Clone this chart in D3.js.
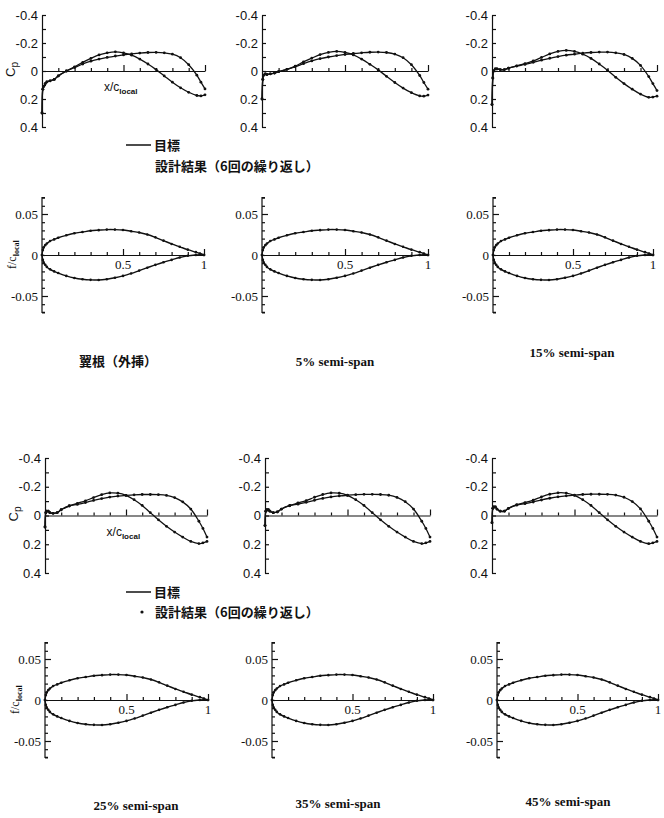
<!DOCTYPE html>
<html><head><meta charset="utf-8">
<script src="https://cdn.jsdelivr.net/npm/d3@7"></script>
<style>body{margin:0;background:#fff}svg{display:block}</style>
</head><body>
<script>
// ---------- data ----------
const xs = [0,0.005,0.01,0.02,0.03,0.05,0.075,0.1,0.15,0.2,0.25,0.3,0.35,0.4,0.45,0.5,0.55,0.6,0.65,0.7,0.75,0.8,0.85,0.9,0.95,0.975,1];
const cpRootA = [0.30,0.13,0.11,0.09,0.078,0.07,0.06,0.035,0.0,-0.03,-0.062,-0.09,-0.115,-0.13,-0.137,-0.13,-0.113,-0.085,-0.05,-0.01,0.035,0.08,0.12,0.152,0.175,0.178,0.17];
const cpRootB = [0.30,0.13,0.11,0.09,0.078,0.07,0.06,0.035,0.0,-0.025,-0.05,-0.07,-0.085,-0.097,-0.107,-0.115,-0.122,-0.128,-0.132,-0.133,-0.13,-0.12,-0.095,-0.045,0.03,0.08,0.128];
const cp5A = [0.20,0.06,0.03,0.02,0.025,0.02,0.015,0.005,-0.012,-0.035,-0.065,-0.092,-0.117,-0.133,-0.14,-0.133,-0.115,-0.085,-0.048,-0.008,0.038,0.082,0.122,0.155,0.178,0.18,0.172];
const cp5B = [0.20,0.06,0.03,0.02,0.025,0.02,0.015,0.005,-0.012,-0.03,-0.052,-0.072,-0.088,-0.1,-0.11,-0.118,-0.125,-0.13,-0.134,-0.135,-0.132,-0.121,-0.095,-0.045,0.032,0.082,0.13];
const cp15A = [0.24,0.05,0.0,-0.015,-0.015,-0.01,-0.01,-0.02,-0.037,-0.052,-0.072,-0.097,-0.122,-0.14,-0.147,-0.14,-0.12,-0.09,-0.05,-0.005,0.045,0.09,0.13,0.165,0.188,0.186,0.18];
const cp15B = [0.24,0.05,0.0,-0.015,-0.015,-0.01,-0.01,-0.02,-0.035,-0.047,-0.062,-0.077,-0.091,-0.103,-0.113,-0.12,-0.127,-0.132,-0.135,-0.135,-0.13,-0.118,-0.09,-0.04,0.04,0.09,0.14];
const cp25A = [0.08,-0.02,-0.03,-0.03,-0.02,-0.015,-0.02,-0.04,-0.068,-0.085,-0.102,-0.125,-0.145,-0.157,-0.155,-0.14,-0.11,-0.07,-0.02,0.03,0.075,0.115,0.15,0.18,0.195,0.19,0.18];
const cp25B = [0.08,-0.02,-0.03,-0.03,-0.02,-0.015,-0.02,-0.04,-0.066,-0.077,-0.09,-0.105,-0.118,-0.128,-0.135,-0.14,-0.144,-0.146,-0.146,-0.145,-0.14,-0.125,-0.095,-0.045,0.04,0.09,0.15];
const cp35A = [0.07,-0.03,-0.04,-0.04,-0.03,-0.02,-0.025,-0.045,-0.07,-0.087,-0.104,-0.127,-0.146,-0.157,-0.155,-0.14,-0.11,-0.07,-0.02,0.03,0.075,0.115,0.15,0.18,0.195,0.19,0.18];
const cp35B = [0.07,-0.03,-0.04,-0.04,-0.03,-0.02,-0.025,-0.045,-0.068,-0.079,-0.092,-0.106,-0.119,-0.129,-0.136,-0.141,-0.145,-0.147,-0.147,-0.146,-0.141,-0.126,-0.096,-0.045,0.04,0.09,0.15];
const cp45A = [0.05,-0.05,-0.06,-0.06,-0.045,-0.03,-0.03,-0.05,-0.075,-0.09,-0.107,-0.13,-0.148,-0.158,-0.156,-0.14,-0.11,-0.07,-0.02,0.03,0.075,0.115,0.15,0.18,0.196,0.19,0.18];
const cp45B = [0.05,-0.05,-0.06,-0.06,-0.045,-0.03,-0.03,-0.05,-0.072,-0.082,-0.094,-0.108,-0.12,-0.13,-0.137,-0.142,-0.146,-0.148,-0.148,-0.147,-0.142,-0.127,-0.097,-0.046,0.04,0.09,0.15];
const thickUpper = [0,0.006,0.009,0.012,0.014,0.017,0.019,0.021,0.024,0.0265,0.028,0.0295,0.0303,0.031,0.031,0.0305,0.029,0.0275,0.025,0.0215,0.0175,0.0135,0.010,0.0065,0.0035,0.0018,0];
const thickLower = [0,-0.006,-0.009,-0.012,-0.0145,-0.0175,-0.02,-0.022,-0.0255,-0.028,-0.0295,-0.0303,-0.0305,-0.0295,-0.0278,-0.0255,-0.0225,-0.019,-0.0155,-0.012,-0.0088,-0.006,-0.003,-0.001,0,0.0003,0];
const sectionNames = ["翼根（外挿）","5% semi-span","15% semi-span","25% semi-span","35% semi-span","45% semi-span"];
const cpSeries = [[cpRootA,cpRootB],[cp5A,cp5B],[cp15A,cp15B],[cp25A,cp25B],[cp35A,cp35B],[cp45A,cp45B]];
const cpTickValues = [-0.4,-0.2,0,0.2,0.4];
const cpTickLabels = ["-0.4","-0.2","0","0.2","0.4"];
const thickTickValues = [0.05,0,-0.05];
const thickTickLabels = ["0.05","0","-0.05"];
const xTickValues = [0.5,1];
const xTickLabels = ["0.5","1"];
const legendTarget = "目標";
const legendDesign = "設計結果（6回の繰り返し）";

// ---------- layout ----------
const W = 664, H = 818;
const svg = d3.select("body").append("svg").attr("width",W).attr("height",H);
const ink = "#111";
const cpLayout = [
  {x0:42,x1:205,yT:15,yB:127},{x0:262,x1:428,yT:15,yB:127},{x0:492,x1:657,yT:15,yB:127},
  {x0:45,x1:207,yT:458,yB:573},{x0:265,x1:430,yT:458,yB:573},{x0:492,x1:657,yT:458,yB:573}
];
const thLayout = [
  {x0:42,x1:204,yZero:255,yF:214},{x0:262,x1:428,yZero:255,yF:214},{x0:493,x1:653,yZero:255,yF:214},
  {x0:45,x1:208,yZero:700,yF:659},{x0:272,x1:433,yZero:700,yF:659},{x0:497,x1:658,yZero:700,yF:659}
];
const labelPos = [[118,366],[335,366],[572,357],[136,810],[338,808],[568,806]];

const line = (x,y) => d3.line().x((d,i)=>x(xs[i])).y(d=>y(d)).curve(d3.curveCatmullRom.alpha(0.5));

function drawCp(k){
  const L = cpLayout[k];
  const g = svg.append("g");
  const x = d3.scaleLinear().domain([0,1]).range([L.x0,L.x1]);
  const y = d3.scaleLinear().domain([-0.4,0.4]).range([L.yT,L.yB]);
  // y axis
  g.append("g").attr("transform",`translate(${L.x0},0)`)
    .call(d3.axisRight(y).tickValues(d3.range(-0.4,0.401,0.1)).tickSize(4).tickSizeOuter(0).tickFormat(""))
    .call(a=>a.selectAll("path,line").attr("stroke",ink).attr("stroke-width",1.2));
  // x axis at 0
  g.append("g").attr("transform",`translate(0,${y(0)})`)
    .call(d3.axisTop(x).tickValues(d3.range(0.1,1.001,0.1)).tickSize(3).tickSizeOuter(0).tickFormat(""))
    .call(a=>{a.selectAll("path,line").attr("stroke",ink).attr("stroke-width",1.2);
      a.selectAll(".tick line").filter(d=>Math.abs(d-0.5)<1e-6||Math.abs(d-1)<1e-6).attr("y2",-6);});
  g.selectAll(".yl").data(cpTickValues).join("text")
    .attr("x",L.x0-4).attr("y",d=>y(d)+4.5).attr("text-anchor","end")
    .attr("font-family","Liberation Sans, Arial, sans-serif").attr("font-size",13).attr("fill",ink)
    .text((d,i)=>cpTickLabels[i]);
  cpSeries[k].forEach(s=>{
    g.append("path").attr("d",line(x,y)(s)).attr("fill","none").attr("stroke",ink).attr("stroke-width",1.3);
    g.selectAll(null).data(s).join("circle").attr("cx",(d,i)=>x(xs[i])).attr("cy",d=>y(d)).attr("r",1.4).attr("fill",ink);
  });
  if(k===0||k===3){
    // Cp label
    const cpT = g.append("text").attr("transform",`translate(${L.x0-27},${y(0)+6}) rotate(-90)`)
      .attr("font-family","Liberation Sans, Arial, sans-serif").attr("font-size",13).attr("fill",ink);
    cpT.append("tspan").text("C");
    cpT.append("tspan").attr("font-size",10).attr("dy",3).text("p");
    const xl = g.append("text").attr("x",x(0.38)).attr("y",y(0)+20)
      .attr("font-family","Liberation Sans, Arial, sans-serif").attr("font-size",12).attr("fill",ink);
    xl.append("tspan").text("x/c");
    xl.append("tspan").attr("font-size",8).attr("font-weight","bold").attr("dy",3).text("local");
  }
}

function drawThick(k){
  const L = thLayout[k];
  const g = svg.append("g");
  const x = d3.scaleLinear().domain([0,1]).range([L.x0,L.x1]);
  const y = d3.scaleLinear().domain([0,0.05]).range([L.yZero,L.yF]);
  g.append("g").attr("transform",`translate(${L.x0},0)`)
    .call(d3.axisRight(y.copy().domain([0,0.05])).tickValues(d3.range(-7,7.5,1).map(v=>v/100)).tickSize(3).tickSizeOuter(0).tickFormat(""))
    .call(a=>{a.selectAll("path,line").attr("stroke",ink).attr("stroke-width",1.2);
      a.select("path").attr("d",`M3,${y(0.07)-L.yZero+L.yZero}H0V${y(-0.07)}H3`);
      a.selectAll(".tick line").filter(d=>Math.abs(Math.abs(d)-0.05)<1e-6).attr("x2",6);});
  g.append("g").attr("transform",`translate(0,${y(0)})`)
    .call(d3.axisTop(x).tickValues(d3.range(0.1,1.001,0.1)).tickSize(3).tickSizeOuter(0).tickFormat(""))
    .call(a=>{a.selectAll("path,line").attr("stroke",ink).attr("stroke-width",1.2);
      a.selectAll(".tick line").filter(d=>Math.abs(d-0.5)<1e-6||Math.abs(d-1)<1e-6).attr("y2",-6);});
  g.selectAll(".yl").data(thickTickValues).join("text")
    .attr("x",L.x0-4).attr("y",d=>y(d)+4.5).attr("text-anchor","end")
    .attr("font-family","Liberation Serif, Times New Roman, serif").attr("font-size",13).attr("fill",ink)
    .text((d,i)=>thickTickLabels[i]);
  g.selectAll(".xl").data(xTickValues).join("text")
    .attr("x",d=>x(d)).attr("y",y(0)+14).attr("text-anchor","middle")
    .attr("font-family","Liberation Serif, Times New Roman, serif").attr("font-size",13).attr("fill",ink)
    .text((d,i)=>xTickLabels[i]);
  [thickUpper,thickLower].forEach(s=>{
    g.append("path").attr("d",line(x,y)(s)).attr("fill","none").attr("stroke",ink).attr("stroke-width",1.4);
    g.selectAll(null).data(s).join("circle").attr("cx",(d,i)=>x(xs[i])).attr("cy",d=>y(d)).attr("r",1.3).attr("fill",ink);
  });
  if(k===0||k===3){
    const t = g.append("text").attr("transform",`translate(${L.x0-26},${y(0)+14}) rotate(-90)`)
      .attr("font-family","Liberation Serif, Times New Roman, serif").attr("font-size",12).attr("fill",ink);
    t.append("tspan").text("f/c");
    t.append("tspan").attr("font-size",8).attr("font-weight","bold").attr("dy",3).text("local");
  }
  const p = labelPos[k];
  svg.append("text").attr("x",p[0]).attr("y",p[1]).attr("text-anchor","middle")
    .attr("font-family", k===0 ? "Noto Sans CJK JP, sans-serif" : "Liberation Serif, Times New Roman, serif")
    .attr("font-weight","bold").attr("font-size",13).attr("fill",ink).text(sectionNames[k]);
}

for(let k=0;k<6;k++){drawCp(k);drawThick(k);}

// legends
function legend(yLine, yText, withDot){
  const g = svg.append("g").attr("font-family","Noto Sans CJK JP, sans-serif").attr("font-size",13).attr("fill",ink);
  g.append("line").attr("x1",126).attr("x2",151).attr("y1",yLine).attr("y2",yLine).attr("stroke",ink).attr("stroke-width",1.5);
  g.append("text").attr("x",154).attr("y",yLine+5).attr("font-weight","bold").text(legendTarget);
  if(withDot) g.append("circle").attr("cx",142).attr("cy",yText-1).attr("r",1.6).attr("fill",ink);
  g.append("text").attr("x",155).attr("y",yText+4).attr("font-weight","bold").text(legendDesign);
}
legend(145,167,false);
legend(592,613,true);
</script>
</body></html>
